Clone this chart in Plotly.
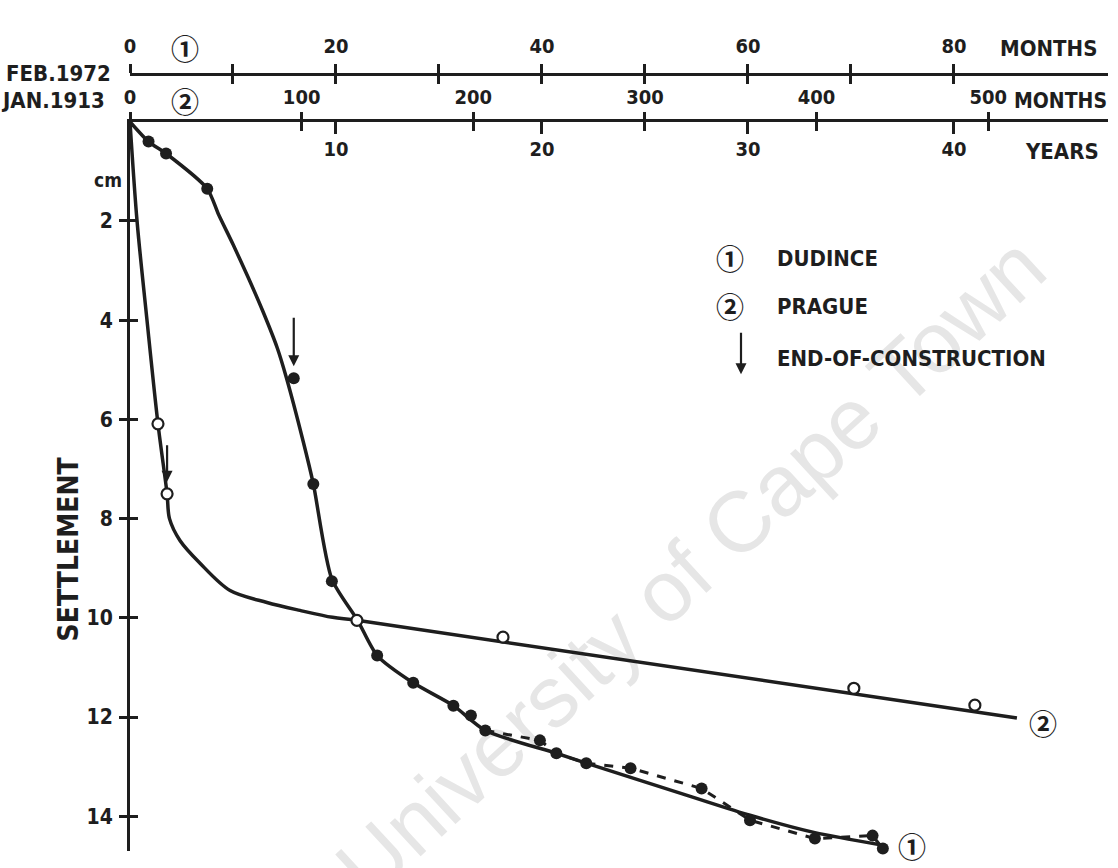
import plotly.graph_objects as go

# ---------------- data ----------------
# Dudince (1): time in months from FEB.1972, settlement in cm
dudince_month = [1.8, 3.5, 7.5, 15.9, 17.8, 19.6, 24.0, 27.5, 31.4, 33.1, 34.5,
                 39.8, 41.4, 44.3, 48.6, 55.5, 60.2, 66.5, 72.1, 73.1]
dudince_settle = [0.40, 0.64, 1.35, 5.17, 7.30, 9.26, 10.76, 11.31, 11.77, 11.97, 12.27,
                  12.47, 12.73, 12.93, 13.03, 13.44, 14.08, 14.45, 14.39, 14.65]
# smooth (solid) curve drawn through the Dudince observations
dudince_fit_month = [0, 1.8, 3.5, 7.5, 8.6, 10.0, 11.5, 12.9, 14.3, 15.2, 16.8, 17.8,
                     19.6, 22.1, 24.0, 27.5, 31.4, 34.5, 41.4, 44.3, 54.7, 60.2, 66.5, 73.0]
dudince_fit_settle = [0, 0.40, 0.64, 1.35, 1.87, 2.47, 3.15, 3.82, 4.56, 5.17, 6.43, 7.30,
                      9.22, 10.05, 10.76, 11.31, 11.77, 12.27, 12.73, 12.93, 13.62, 13.98, 14.33, 14.58]
# dashed line joining the later observations
dudince_dash_month = [34.5, 39.8, 41.4, 44.3, 48.6, 55.5, 60.2, 66.5, 72.1, 73.1]
dudince_dash_settle = [12.27, 12.47, 12.73, 12.93, 13.03, 13.44, 14.08, 14.45, 14.39, 14.65]

# Prague (2): time in months from JAN.1913, settlement in cm
prague_month = [16.3, 21.6, 132.2, 217.3, 421.7, 492.2]
prague_settle = [6.09, 7.50, 10.05, 10.39, 11.42, 11.76]
prague_fit_month = [0, 4.1, 9.9, 16.3, 21.6, 23.0, 29.1, 40.8, 58.3, 79.8, 99, 118, 132.2, 516.7]
prague_fit_settle = [0, 2.0, 4.0, 6.09, 7.50, 8.00, 8.44, 8.90, 9.45, 9.69, 9.85, 9.99, 10.05, 12.02]

# end-of-construction observations (index into the measured lists)
dudince_eoc_index = 3
prague_eoc_index = 1

# axis ticks
dudince_ticks = [0, 10, 20, 30, 40, 50, 60, 70, 80]
dudince_tick_text = ["0", "", "20", "", "40", "", "60", "", "80"]
prague_ticks = [0, 100, 200, 300, 400, 500]
prague_tick_text = ["0", "100", "200", "300", "400", "500"]
year_ticks = [10, 20, 30, 40]
year_tick_text = ["10", "20", "30", "40"]
settle_ticks = [0, 2, 4, 6, 8, 10, 12, 14]
settle_tick_text = ["0", "2", "4", "6", "8", "10", "12", "14"]

legend_labels = ["DUDINCE", "PRAGUE", "END-OF-CONSTRUCTION"]
legend_marks = ["\u2460", "\u2461"]

# ---------------- layout geometry ----------------
W, H = 1118, 868
ML, MR, MT, MB = 130, 10, 20, 17
PW = W - ML - MR           # 978
PH = H - MT - MB           # 831
PLOT_TOP = 120             # pixel of the main (years) axis
YEARS_MAX = 47.48          # years across the plot width
SET_MAX = 14.7             # cm at bottom of plot


def px(xp):
    return (xp - ML) / PW


def py(yp):
    return (H - MB - yp) / PH


DOM_TOP = py(PLOT_TOP)
DUD_POS = py(72)

INK = "#1e1e1e"
FONT = "DejaVu Sans Condensed, Liberation Sans Narrow, sans-serif"
CIRC_FONT = "Noto Sans CJK SC, DejaVu Sans, sans-serif"
tf = dict(family=FONT, size=20, color=INK, weight="bold")

fig = go.Figure()

# Dudince (on Dudince month axis x2)
fig.add_trace(go.Scatter(x=dudince_fit_month, y=dudince_fit_settle, xaxis="x2", yaxis="y",
                         mode="lines", line=dict(color=INK, width=3.5, shape="spline", smoothing=0.7),
                         hoverinfo="skip"))
fig.add_trace(go.Scatter(x=dudince_dash_month, y=dudince_dash_settle, xaxis="x2", yaxis="y",
                         mode="lines", line=dict(color=INK, width=3, dash="dash"),
                         hoverinfo="skip", cliponaxis=False))
fig.add_trace(go.Scatter(x=dudince_month, y=dudince_settle, xaxis="x2", yaxis="y",
                         mode="markers", marker=dict(color=INK, size=12, symbol="circle"),
                         hoverinfo="skip", cliponaxis=False))

# Prague (on Prague month axis x3)
fig.add_trace(go.Scatter(x=prague_fit_month, y=prague_fit_settle, xaxis="x3", yaxis="y",
                         mode="lines", line=dict(color=INK, width=3.5, shape="spline", smoothing=0.9),
                         hoverinfo="skip"))
fig.add_trace(go.Scatter(x=prague_month, y=prague_settle, xaxis="x3", yaxis="y",
                         mode="markers",
                         marker=dict(color="white", size=11, symbol="circle",
                                     line=dict(color=INK, width=2.2)),
                         hoverinfo="skip", cliponaxis=False))

# invisible helpers so that every auxiliary axis owns a subplot
for xa, ya in [("x", "y"), ("x4", "y"), ("x5", "y"), ("x", "y2")]:
    fig.add_trace(go.Scatter(x=[1], y=[1], xaxis=xa, yaxis=ya, mode="markers",
                             marker=dict(opacity=0, size=1), hoverinfo="skip"))

common = dict(showgrid=False, zeroline=False, fixedrange=True, tickcolor=INK, tickwidth=2.5)

fig.update_layout(
    width=W, height=H,
    margin=dict(l=ML, r=MR, t=MT, b=MB),
    paper_bgcolor="white", plot_bgcolor="rgba(0,0,0,0)",
    showlegend=False, hovermode=False,
    font=dict(family=FONT, color=INK),
    # years (main axis, labels below the line)
    xaxis=dict(domain=[0, 1], range=[0, YEARS_MAX], side="top", anchor="y",
               showline=True, linecolor=INK, linewidth=3,
               ticks="inside", ticklen=12, tickmode="array",
               tickvals=year_ticks, ticktext=year_tick_text,
               ticklabelposition="inside", ticklabelstandoff=9, tickfont=tf, **common),
    # Dudince months (FEB.1972)
    xaxis2=dict(overlaying="x", anchor="free", position=DUD_POS, side="top",
                range=[0, YEARS_MAX * 2], showline=True, linecolor=INK, linewidth=2.5,
                ticks="outside", ticklen=9, tickmode="array",
                tickvals=dudince_ticks, ticktext=dudince_tick_text,
                ticklabelstandoff=3, tickfont=tf, **common),
    # Prague months (JAN.1913)
    xaxis3=dict(overlaying="x", anchor="y", side="top",
                range=[0, YEARS_MAX * 12], showline=False,
                ticks="outside", ticklen=9, tickmode="array",
                tickvals=prague_ticks, ticktext=prague_tick_text,
                ticklabelstandoff=0, tickfont=tf, **common),
    xaxis4=dict(overlaying="x", anchor="y", side="top",
                range=[0, YEARS_MAX * 12], showline=False,
                ticks="inside", ticklen=9, tickmode="array", tickvals=prague_ticks[1:],
                showticklabels=False, **common),
    xaxis5=dict(overlaying="x", anchor="free", position=DUD_POS, side="top",
                range=[0, YEARS_MAX * 2], showline=False,
                ticks="inside", ticklen=9, tickmode="array", tickvals=dudince_ticks,
                showticklabels=False, **common),
    yaxis=dict(domain=[0, DOM_TOP], range=[SET_MAX, 0], anchor="x", side="left",
               showline=True, linecolor=INK, linewidth=3,
               ticks="outside", ticklen=8, tickmode="array",
               tickvals=settle_ticks, ticktext=settle_tick_text,
               ticklabelstandoff=2, tickfont=dict(tf, size=21), **common),
    yaxis2=dict(overlaying="y", anchor="x", side="left", range=[SET_MAX, 0],
                showline=False, ticks="inside", ticklen=8, tickmode="array",
                tickvals=settle_ticks[1:], showticklabels=False, **common),
)

ann = []


def text(x, y, s, xref="paper", yref="paper", xanchor="center", size=22, family=FONT, angle=0):
    ann.append(dict(x=x, y=y, xref=xref, yref=yref, text=s, showarrow=False,
                    xanchor=xanchor, yanchor="middle", textangle=angle,
                    font=dict(family=family, size=size, color=INK, weight="bold")))


CS = 28  # circled-number size
# axis captions
text(5.3, py(46), legend_marks[0], xref="x2", size=CS, family=CIRC_FONT)
text(32.0, py(99), legend_marks[1], xref="x3", size=CS, family=CIRC_FONT)
text(px(1099), py(47), "MONTHS", xanchor="right")
text(px(113), py(72), "FEB.1972", xanchor="right")
text(px(107), py(99), "JAN.1913", xanchor="right")
text(px(1109), py(99), "MONTHS", xanchor="right", size=21)
text(px(1101), py(150), "YEARS", xanchor="right")
text(px(108), 1.17, "cm", yref="y", size=19)
text(px(68), 8.62, "SETTLEMENT", yref="y", size=28, angle=-90)

# legend
text(px(730), py(257), legend_marks[0], size=CS, family=CIRC_FONT)
text(px(775), py(257), legend_labels[0], xanchor="left")
text(px(730), py(305), legend_marks[1], size=CS, family=CIRC_FONT)
text(px(775), py(305), legend_labels[1], xanchor="left")
text(px(775), py(357), legend_labels[2], xanchor="left")
ann.append(dict(x=px(741), y=py(373), xref="paper", yref="paper", ax=0, ay=-43,
                showarrow=True, arrowhead=2, arrowsize=1, arrowwidth=2.2, arrowcolor=INK, text=""))

# curve end labels
text(75.9, 14.6, legend_marks[0], xref="x2", yref="y", size=CS, family=CIRC_FONT)
text(531.8, 12.12, legend_marks[1], xref="x3", yref="y", size=CS, family=CIRC_FONT)

# end-of-construction arrows
ann.append(dict(x=dudince_month[dudince_eoc_index], y=dudince_settle[dudince_eoc_index],
                xref="x2", yref="y", ax=0, ay=-62, standoff=12, showarrow=True,
                arrowhead=2, arrowsize=1, arrowwidth=2.2, arrowcolor=INK, text=""))
ann.append(dict(x=prague_month[prague_eoc_index], y=prague_settle[prague_eoc_index],
                xref="x3", yref="y", ax=0, ay=-50, standoff=12, showarrow=True,
                arrowhead=2, arrowsize=1, arrowwidth=2.2, arrowcolor=INK, text=""))

fig.update_layout(annotations=ann)

# watermark (drawn beneath the data)
fig.add_shape(type="line", xref="paper", yref="paper",
              x0=px(340), y0=py(879), x1=px(1030), y1=py(241),
              line=dict(color="rgba(0,0,0,0)", width=0), layer="below",
              label=dict(text="University of Cape Town", textposition="middle", yanchor="middle",
                         font=dict(family="Liberation Sans, Arial, sans-serif", size=86, color="#e6e6e6")))

fig.write_html("out.html")
